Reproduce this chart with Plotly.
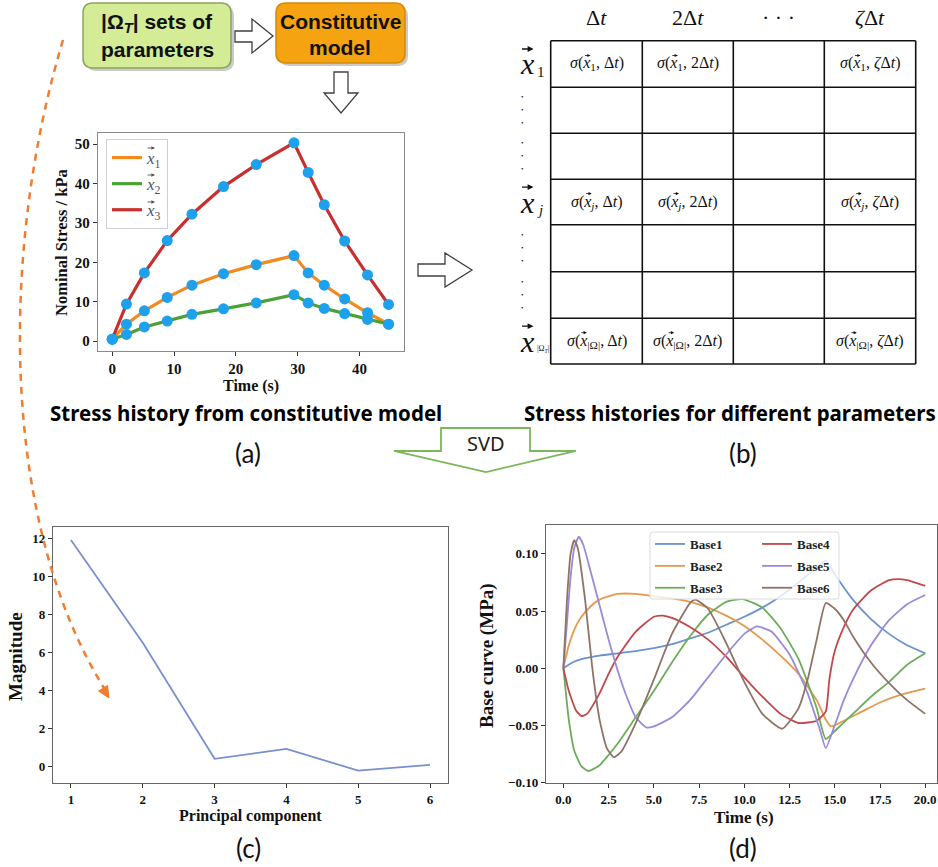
import plotly.graph_objects as go

W, H = 938, 867

# ---------------- Panel (a): stress histories ----------------
t_a = [0, 2.3, 5.2, 8.9, 12.9, 18.0, 23.3, 29.4, 31.7, 34.3, 37.6, 41.3, 44.7]
x1_vals = [0.5, 4.3, 7.7, 11.1, 14.2, 17.1, 19.4, 21.7, 17.3, 14.2, 10.7, 7.2, 4.3]
x2_vals = [0.5, 1.7, 3.6, 5.1, 6.8, 8.2, 9.7, 11.8, 9.7, 8.3, 7.0, 5.5, 4.3]
x3_vals = [0.5, 9.4, 17.3, 25.5, 32.2, 39.2, 44.8, 50.3, 42.8, 34.6, 25.4, 16.8, 9.3]
a_xticks = [0, 10, 20, 30, 40]
a_yticks = [0, 10, 20, 30, 40, 50]

# ---------------- Panel (c): singular values ----------------
pc = [1, 2, 3, 4, 5, 6]
magnitude = [11.9, 6.5, 0.4, 0.92, -0.22, 0.08]
c_yticks = [0, 2, 4, 6, 8, 10, 12]

# ---------------- Panel (d): base curves ----------------
t_b1 = [0, 0.5, 1, 2, 3, 4, 5, 6, 7, 8, 9, 10, 11, 12, 13, 14, 14.5, 15, 16, 17, 18, 19, 20]
base1 = [0, 0.005, 0.008, 0.011, 0.013, 0.015, 0.0175, 0.021, 0.026, 0.031, 0.038, 0.045,
         0.053, 0.063, 0.075, 0.088, 0.094, 0.082, 0.060, 0.043, 0.030, 0.020, 0.013]
t_b2 = [0, 0.3, 0.7, 1, 1.5, 2, 3, 4, 5, 6, 7, 8, 9, 10, 11, 12, 13, 14, 14.5, 14.8,
        15.5, 16.5, 17.5, 18.5, 20]
base2 = [0, 0.02, 0.037, 0.045, 0.054, 0.06, 0.065, 0.065, 0.063, 0.061, 0.058, 0.053,
         0.046, 0.037, 0.025, 0.011, -0.005, -0.028, -0.045, -0.051, -0.046, -0.038,
         -0.030, -0.024, -0.018]
t_b3 = [0, 0.3, 0.6, 1.0, 1.4, 2, 2.5, 3, 4, 5, 6, 7, 8, 9, 9.9, 11, 12, 13, 14, 14.5,
        15, 16, 17, 18, 19, 20]
base3 = [0, -0.045, -0.072, -0.086, -0.09, -0.085, -0.076, -0.066, -0.043, -0.02, 0.005,
         0.028, 0.047, 0.058, 0.0605, 0.053, 0.035, 0.008, -0.035, -0.062, -0.055, -0.040,
         -0.025, -0.012, 0.003, 0.013]
t_b4 = [0, 0.3, 0.7, 1.0, 1.3, 2, 2.5, 3, 4, 5, 5.5, 6, 7, 8, 9, 10, 11, 12, 13, 14, 14.5,
        14.7, 15, 15.5, 16, 17, 18, 18.5, 19, 20]
base4 = [0, -0.02, -0.037, -0.042, -0.04, -0.022, -0.005, 0.01, 0.032, 0.045, 0.046, 0.044,
         0.036, 0.025, 0.01, -0.008, -0.025, -0.04, -0.048, -0.046, -0.038, -0.01, 0.015,
         0.036, 0.051, 0.068, 0.077, 0.078, 0.077, 0.072]
t_b5 = [0, 0.2, 0.4, 0.6, 0.85, 1.1, 1.5, 2, 2.5, 3, 3.5, 4, 4.6, 5, 6, 7, 8, 9, 10, 10.7,
        11.5, 12.5, 13.5, 14.2, 14.5, 15, 15.5, 16, 17, 18, 19, 20]
base5 = [0, 0.04, 0.08, 0.105, 0.115, 0.108, 0.085, 0.055, 0.025, -0.002, -0.025, -0.043,
         -0.052, -0.051, -0.043, -0.028, -0.008, 0.012, 0.030, 0.0365, 0.032, 0.012, -0.022,
         -0.055, -0.07, -0.05, -0.028, -0.01, 0.02, 0.042, 0.056, 0.064]
t_b6 = [0, 0.2, 0.4, 0.6, 0.8, 1.2, 1.6, 2.0, 2.4, 2.8, 3.2, 4, 5, 6, 7, 7.3, 8, 9, 10, 11,
        12.1, 13, 13.5, 14, 14.5, 15, 15.5, 16, 17, 18, 19, 20]
base6 = [0, 0.06, 0.1, 0.112, 0.105, 0.06, 0.0, -0.045, -0.07, -0.078, -0.073, -0.048, -0.01,
         0.03, 0.057, 0.06, 0.052, 0.022, -0.012, -0.04, -0.053, -0.035, -0.01, 0.025, 0.057,
         0.052, 0.042, 0.028, 0.005, -0.013, -0.028, -0.040]
d_xticks = [0, 2.5, 5, 7.5, 10, 12.5, 15, 17.5, 20]
d_yticks = [-0.10, -0.05, 0.0, 0.05, 0.10]

# ---------------- Table (b) text ----------------
col_headers = ["Δ<i>t</i>", "2Δ<i>t</i>", "· · ·", "<i>ζ</i>Δ<i>t</i>"]
row_subs = ["1", "<i>j</i>", "|Ω<sub><i>T</i></sub>|"]
cell_subs = ["<sub>1</sub>", "<sub><i>j</i></sub>", "<sub>|Ω|</sub>"]
cell_args = ["Δ<i>t</i>", "2Δ<i>t</i>", "", "<i>ζ</i>Δ<i>t</i>"]
# horizontal offset (px) of the x glyph from the cell-text centre (for the vector arrow)
cell_x_offsets = [[-9.5, -13.5, 0, -13.0], [-8.3, -12.3, 0, -11.8], [-13.2, -17.2, 0, -16.7]]

SERIF = "Liberation Serif"
SANS = "Noto Sans"


def X(px):
    return px / W


def Y(py):
    return 1 - py / H


def path(points, close=True):
    s = "M " + " L ".join(f"{X(a):.5f},{Y(b):.5f}" for a, b in points)
    return s + (" Z" if close else "")


def rrect(x0, y0, x1, y1, r):
    pts = [
        f"M {X(x0 + r):.5f},{Y(y0):.5f}",
        f"L {X(x1 - r):.5f},{Y(y0):.5f}",
        f"Q {X(x1):.5f},{Y(y0):.5f} {X(x1):.5f},{Y(y0 + r):.5f}",
        f"L {X(x1):.5f},{Y(y1 - r):.5f}",
        f"Q {X(x1):.5f},{Y(y1):.5f} {X(x1 - r):.5f},{Y(y1):.5f}",
        f"L {X(x0 + r):.5f},{Y(y1):.5f}",
        f"Q {X(x0):.5f},{Y(y1):.5f} {X(x0):.5f},{Y(y1 - r):.5f}",
        f"L {X(x0):.5f},{Y(y0 + r):.5f}",
        f"Q {X(x0):.5f},{Y(y0):.5f} {X(x0 + r):.5f},{Y(y0):.5f} Z",
    ]
    return " ".join(pts)


fig = go.Figure()

# ---- panel (a) traces ----
a_colors = ["#f28a1e", "#4aa236", "#c8302f"]
a_names = ["<i>x</i><sub>1</sub>", "<i>x</i><sub>2</sub>", "<i>x</i><sub>3</sub>"]
for i, (vals, col, nm) in enumerate(zip([x1_vals, x2_vals, x3_vals], a_colors, a_names)):
    fig.add_trace(go.Scatter(x=t_a, y=vals, mode="lines", name=nm,
                             line=dict(color=col, width=3.2),
                             xaxis="x", yaxis="y", legend="legend3",
                             legendgroup=f"a{i}"))
for vals in [x1_vals, x2_vals, x3_vals]:
    fig.add_trace(go.Scatter(x=t_a, y=vals, mode="markers", showlegend=False,
                             marker=dict(color="#1da1ec", size=11),
                             xaxis="x", yaxis="y"))

# ---- panel (c) ----
fig.add_trace(go.Scatter(x=pc, y=magnitude, mode="lines", showlegend=False,
                         line=dict(color="#7990cf", width=1.8),
                         xaxis="x2", yaxis="y2"))

# ---- panel (d) ----
d_series = [
    ("Base1", t_b1, base1, "#6a93cf", "legend"),
    ("Base2", t_b2, base2, "#e39a4e", "legend"),
    ("Base3", t_b3, base3, "#6cad5c", "legend"),
    ("Base4", t_b4, base4, "#c2474b", "legend2"),
    ("Base5", t_b5, base5, "#9a8ad8", "legend2"),
    ("Base6", t_b6, base6, "#8e7466", "legend2"),
]
for i, (nm, tt, vv, col, lg) in enumerate(d_series):
    fig.add_trace(go.Scatter(x=tt, y=vv, mode="lines", name=f"<b>{nm}</b>",
                             line=dict(color=col, width=1.8, shape="spline", smoothing=0.5),
                             xaxis="x3", yaxis="y3", legend=lg, legendgroup=f"d{i}"))

axis_common = dict(showline=True, mirror=True, linewidth=1.3,
                   ticks="outside", ticklen=4, tickcolor="#333", tickwidth=1,
                   showgrid=False, zeroline=False, automargin=False)

fig.update_layout(
    width=W, height=H,
    margin=dict(l=0, r=0, t=0, b=0),
    paper_bgcolor="white", plot_bgcolor="white",
    xaxis=dict(domain=[X(98), X(404)], anchor="y", range=[-2.3, 47.2], tickvals=a_xticks,
               linecolor="#8a8a8a",
               tickfont=dict(family=SERIF, size=15, color="#111", weight="bold"), **axis_common),
    yaxis=dict(domain=[Y(351), Y(133)], anchor="x", range=[-2.5, 52.8], tickvals=a_yticks,
               linecolor="#8a8a8a",
               tickfont=dict(family=SERIF, size=15, color="#111", weight="bold"), **axis_common),
    xaxis2=dict(domain=[X(53), X(448)], anchor="y2", range=[0.75, 6.25], tickvals=pc,
                linecolor="#666",
                tickfont=dict(family=SERIF, size=13, color="#111", weight="bold"), **axis_common),
    yaxis2=dict(domain=[Y(783), Y(527)], anchor="x2", range=[-0.87, 12.58], tickvals=c_yticks,
                linecolor="#666",
                tickfont=dict(family=SERIF, size=13, color="#111", weight="bold"), **axis_common),
    xaxis3=dict(domain=[X(546), X(937)], anchor="y3", range=[-0.96, 20.65], tickvals=d_xticks,
                tickformat=".1f", linecolor="#666",
                tickfont=dict(family=SERIF, size=13, color="#111", weight="bold"), **axis_common),
    yaxis3=dict(domain=[Y(783), Y(525)], anchor="x3", range=[-0.1005, 0.1253], tickvals=d_yticks,
                tickformat=".2f", linecolor="#666",
                tickfont=dict(family=SERIF, size=13, color="#111", weight="bold"), **axis_common),
    legend3=dict(x=X(106), y=Y(139), xanchor="left", yanchor="top", bgcolor="white",
                 bordercolor="#d0d0d0", borderwidth=1, tracegroupgap=1, traceorder="grouped",
                 font=dict(family=SERIF, size=17, color="#555")),
    legend=dict(x=X(650), y=Y(529), xanchor="left", yanchor="top", bgcolor="rgba(0,0,0,0)",
                borderwidth=0, tracegroupgap=2, traceorder="grouped",
                font=dict(family=SERIF, size=13, color="#222")),
    legend2=dict(x=X(757), y=Y(529), xanchor="left", yanchor="top", bgcolor="rgba(0,0,0,0)",
                 borderwidth=0, tracegroupgap=2, traceorder="grouped",
                 font=dict(family=SERIF, size=13, color="#222")),
)

shapes = []
# legend box for (d)
shapes.append(dict(type="path", xref="paper", yref="paper", path=rrect(650, 532, 839, 599, 3),
                   fillcolor="rgba(255,255,255,0.8)", line=dict(color="#dcdcdc", width=1),
                   layer="above"))

# flowchart boxes with shadows
shapes.append(dict(type="path", xref="paper", yref="paper", path=rrect(86, 6, 234, 71, 10),
                   fillcolor="rgba(150,150,150,0.5)", line=dict(width=0)))
shapes.append(dict(type="path", xref="paper", yref="paper", path=rrect(83, 3, 231, 68, 10),
                   fillcolor="#d3ec95", line=dict(color="#8ea35f", width=1.5)))
shapes.append(dict(type="path", xref="paper", yref="paper", path=rrect(279, 6, 408, 66, 10),
                   fillcolor="rgba(150,150,150,0.5)", line=dict(width=0)))
shapes.append(dict(type="path", xref="paper", yref="paper", path=rrect(276, 3, 405, 63, 10),
                   fillcolor="#f5a310", line=dict(color="#d48a06", width=1.5)))

# hollow arrows
arrow_style = dict(type="path", xref="paper", yref="paper", fillcolor="white",
                   line=dict(color="#404040", width=1.3))
shapes.append(dict(path=path([(235, 31), (252, 31), (252, 19), (273, 36), (252, 53),
                              (252, 42), (235, 42)]), **arrow_style))
shapes.append(dict(path=path([(334, 72), (348, 72), (348, 93), (358, 93), (341, 113),
                              (324, 93), (334, 93)]), **arrow_style))
shapes.append(dict(path=path([(418, 264), (445, 264), (445, 253), (472, 270), (445, 287),
                              (445, 276), (418, 276)]), **arrow_style))
# SVD arrow
shapes.append(dict(type="path", xref="paper", yref="paper", fillcolor="white",
                   line=dict(color="#7cb65a", width=1.8),
                   path=path([(441, 428), (530, 428), (530, 451), (576, 451), (486, 472),
                              (394, 451), (441, 451)])))

# table grid
col_edges = [550.7, 642.3, 733.3, 824.3, 915.7]
row_edges = [40.7, 87.3, 133.3, 179.3, 224.8, 271.7, 318.3, 364]
for cx in col_edges:
    shapes.append(dict(type="line", xref="paper", yref="paper", x0=X(cx), x1=X(cx),
                       y0=Y(row_edges[0]), y1=Y(row_edges[-1]),
                       line=dict(color="#111", width=1.6)))
for ry in row_edges:
    shapes.append(dict(type="line", xref="paper", yref="paper", x0=X(col_edges[0]),
                       x1=X(col_edges[-1]), y0=Y(ry), y1=Y(ry),
                       line=dict(color="#111", width=1.6)))

# dashed orange arc + arrowhead
p0, p1, p2, p3 = (63, 40), (0, 250), (0, 520), (104, 688)
arc = (f"M {X(p0[0]):.5f},{Y(p0[1]):.5f} C {X(p1[0]):.5f},{Y(p1[1]):.5f} "
       f"{X(p2[0]):.5f},{Y(p2[1]):.5f} {X(p3[0]):.5f},{Y(p3[1]):.5f}")
shapes.append(dict(type="path", xref="paper", yref="paper", path=arc,
                   line=dict(color="#ee7d31", width=2.5, dash="7px,6px"), layer="above"))
shapes.append(dict(type="path", xref="paper", yref="paper", fillcolor="#ee7d31",
                   line=dict(color="#ee7d31", width=1), layer="above",
                   path=path([(109, 698), (107.5, 685.5), (98.5, 691)])))

fig.update_layout(shapes=shapes)

ann = []


def add_text(x, y, text, size, family=SERIF, color="#111", angle=0, weight="normal",
             xanchor="center"):
    ann.append(dict(x=X(x), y=Y(y), xref="paper", yref="paper", text=text, showarrow=False,
                    xanchor=xanchor, yanchor="middle", textangle=angle,
                    font=dict(family=family, size=size, color=color, weight=weight)))


def vec_arrow(xc, y, length, color="#111", width=1.0, size=1.0):
    ann.append(dict(x=X(xc + length / 2), y=Y(y), xref="paper", yref="paper",
                    ax=-length, ay=0, axref="pixel", ayref="pixel",
                    text="", showarrow=True, arrowhead=2, arrowsize=size,
                    arrowwidth=width, arrowcolor=color, standoff=0, startstandoff=0))


# flowchart text
add_text(157, 23, "|Ω<sub><i>T</i></sub>| sets of", 21, "Liberation Sans", "#111", weight="bold")
add_text(157, 50, "parameters", 21, "Liberation Sans", "#111", weight="bold")
add_text(340, 22, "Constitutive", 21, "Liberation Sans", "#111", weight="bold")
add_text(340, 48, "model", 21, "Liberation Sans", "#111", weight="bold")

# axis titles
add_text(61, 243, "Nominal Stress / kPa", 16.5, angle=-90, weight="bold")
add_text(251, 386, "Time (s)", 16, weight="bold")
add_text(15, 657, "Magnitude", 19, angle=-90, weight="bold")
add_text(250, 816, "Principal component", 16, weight="bold")
add_text(487, 656, "Base curve (MPa)", 19, angle=-90, weight="bold")
add_text(744, 817, "Time (s)", 17, weight="bold")

# captions
add_text(246, 413, "Stress history from constitutive model", 20.5, SANS, "#000", weight="bold")
add_text(730, 413, "Stress histories for different parameters", 20.5, SANS, "#000", weight="bold")
add_text(248, 453, "(a)", 26, "Lato", "#111")
add_text(743, 453, "(b)", 26, "Lato", "#111")
add_text(248, 848, "(c)", 26, "Lato", "#111")
add_text(743, 848, "(d)", 26, "Lato", "#111")
add_text(486, 443, "SVD", 20, SANS, "#222")

# vector arrows above x in the (a) legend
for k, ly in enumerate([148, 175, 202]):
    vec_arrow(150.5, ly, 9, color="#555", width=0.9, size=0.8)

# table headers
col_centers = [(col_edges[i] + col_edges[i + 1]) / 2 for i in range(4)]
for cx, txt in zip(col_centers, col_headers):
    add_text(cx, 17, txt, 22)
# row labels and cells
label_rows = [0, 3, 6]
for k, r in enumerate(label_rows):
    cy = (row_edges[r] + row_edges[r + 1]) / 2
    add_text(527, cy, "<i>x</i>", 30)
    vec_arrow(527, cy - 15, 13, width=1.3, size=0.9)
    add_text(535, cy + 8, row_subs[k], 15 if k < 2 else 8, xanchor="left")
    for c in range(4):
        if cell_args[c]:
            txt = f"<i>σ</i>(<i>x</i>{cell_subs[k]}, {cell_args[c]})"
            add_text(col_centers[c], cy, txt, 16)
            vec_arrow(col_centers[c] + cell_x_offsets[k][c], cy - 8.5, 7, width=0.8, size=0.8)
# vertical dots
for r in [1, 2, 4, 5]:
    cy = (row_edges[r] + row_edges[r + 1]) / 2
    for dy in (-13, 0, 13):
        add_text(522, cy + dy, "•", 7)

fig.update_layout(annotations=ann)

fig.write_html("out.html", config={"displayModeBar": False})
